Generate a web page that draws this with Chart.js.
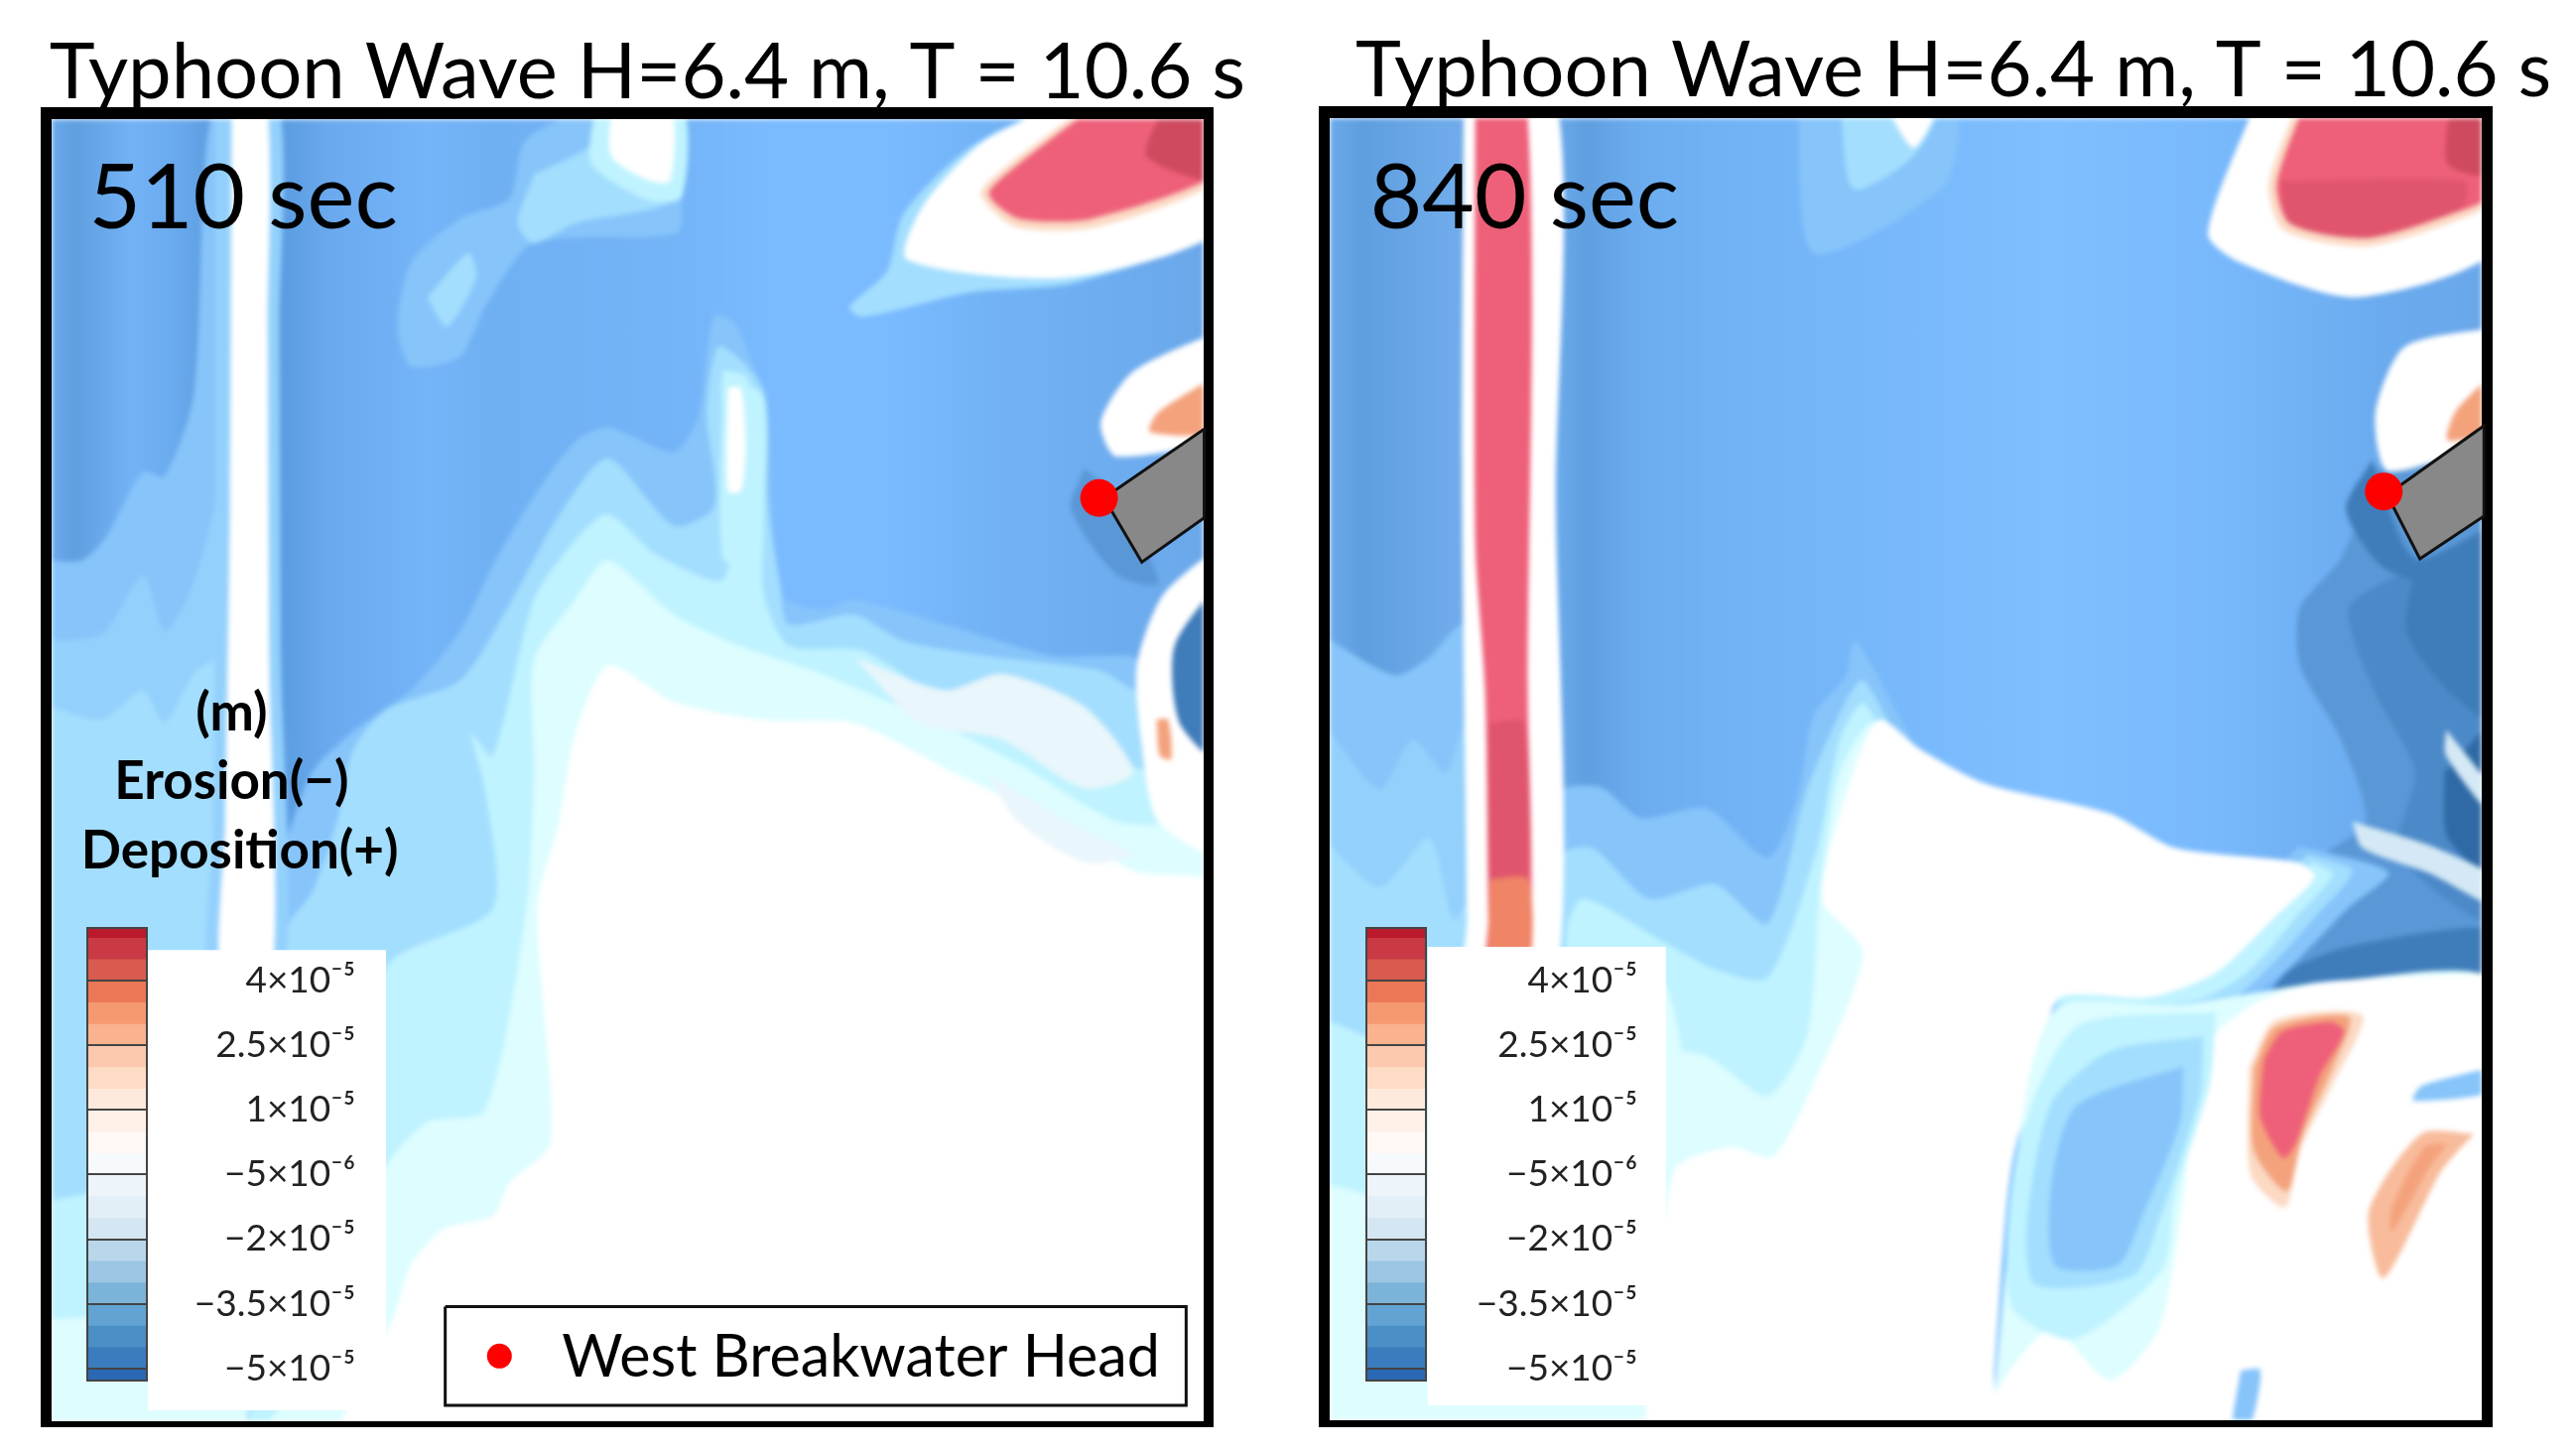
<!DOCTYPE html>
<html>
<head>
<meta charset="utf-8">
<script src="https://cdn.jsdelivr.net/npm/chart.js@4"></script>
<style>
  html, body { margin: 0; padding: 0; background: #fff; }
  body { position: relative; width: 2596px; height: 1464px; overflow: hidden; }
  canvas { position: absolute; display: block; }
  .frame { position: absolute; box-sizing: border-box; border-style: solid; border-color: #000; }
</style>
</head>
<body>
<script>
// all map coordinates are in one shared 1568 x 884 plan space, y running down
const titleText = 'Typhoon Wave H=6.4 m, T = 10.6 s';
const timeLabels = ['510 sec', '840 sec'];
const legendLabel = 'West Breakwater Head';
const unitLabels = ['(m)', 'Erosion(\u2212)', 'Deposition(+)'];

// colour bar
const barEdges = [5.22, 5, 4.5, 4, 3.5, 3, 2.5, 2, 1.5, 1, 0.5, 0, -0.5, -1, -1.5, -2, -2.5, -3, -3.5, -4, -4.5, -5, -5.28];
const barColors = ['#bb1a2c', '#c93a44', '#d95a4e', '#ea7856', '#f59a70', '#fab38f', '#fdc9ae', '#fedcc6', '#feeadc', '#fff1e8', '#fff8f5', '#f6fafd', '#edf4fa', '#e2eff7', '#d5e6f3', '#b9d7eb', '#9cc6e4', '#7cb4d9', '#62a3d3', '#4a8fc5', '#3a7cbd', '#2a68b3'];
const barTicks = [4, 2.5, 1, -0.5, -2, -3.5, -5];
const barTickLabels = ['4\u00d710\u207b\u2075', '2.5\u00d710\u207b\u2075', '1\u00d710\u207b\u2075', '\u22125\u00d710\u207b\u2076', '\u22122\u00d710\u207b\u2075', '\u22123.5\u00d710\u207b\u2075', '\u22125\u00d710\u207b\u2075'];

// background vertical stripes
const westStripeX = [32, 45, 80, 105, 125, 170, 200, 260, 300, 420, 470, 540, 600, 732];
const westStripeColors = ['#6aa9ec', '#5f9fe0', '#72b2f5', '#6aaaee', '#5f9fe2', '#5a9be0', '#6aa9ee', '#74b4f8', '#6fb0f3', '#74b4f8', '#7abaff', '#7abaff', '#72b3f6', '#6aa8ea'];
const eastStripeX = [810, 830, 880, 946, 965, 1000, 1060, 1130, 1250, 1350, 1450, 1510];
const eastStripeColors = ['#6aa9ea', '#5e9edf', '#6fabea', '#6cabec', '#5f9fe0', '#6cadf0', '#72b3f6', '#76b7fa', '#7fbfff', '#78b9fc', '#6aaaee', '#6aa8ea'];

const palette = {
  a: '#86c4fa', a2: '#93d0fc', b: '#a3defe', c: '#bff3ff', d: '#ddfdff', w: '#ffffff',
  red1: '#ee6079', red2: '#e0556d', red3: '#cf4a5e', orange: '#f4a27c', orange2: '#f8bc9c', bandOrange: '#ef8466', peach: '#fbd9c3',
  dark1: '#5a97d6', darkMid: '#4c89c8', dark2: '#3f7cba', dark3: '#2f6aa6', pale: '#d4e9f5', mist: '#e9f6fb'
};

// 510 sec contours
const wLeftA = [[28,341],[50,341],[65,326],[87,287],[100,290],[118,240],[128,72],[150,72],[150,870],[28,870],[28,341]];
const wLeftA2 = [[28,390],[62,386],[87,350],[100,384],[115,362],[131,302],[136,90],[150,90],[150,870],[28,870],[28,390]];
const wLeftB = [[28,429],[62,438],[87,420],[100,440],[118,410],[135,400],[150,400],[150,870],[28,870],[28,429]];
const wLeftC = [[28,731],[90,720],[150,710],[150,870],[28,870],[28,731]];
const wLeftD = [[28,803],[90,800],[150,800],[150,870],[28,870],[28,803]];
const wRightA = [[150,880],[165,560],[172,520],[190,470],[215,445],[250,420],[280,384],[300,344],[325,302],[350,269],[370,260],[410,275],[425,254],[430,217],[435,192],[447,196],[460,226],[467,242],[470,302],[475,362],[500,371],[520,365],[575,380],[640,399],[675,399],[690,400],[740,440],[740,880],[150,880]];
const wRightB = [[150,880],[175,565],[190,543],[205,500],[215,456],[235,432],[280,414],[310,368],[340,314],[370,279],[410,320],[435,308],[430,251],[437,211],[452,220],[465,239],[467,302],[475,356],[480,380],[520,374],[550,390],[600,399],[670,408],[685,417],[740,450],[740,880],[150,880]];
const wRightC = [[150,880],[155,840],[235,589],[300,553],[295,480],[287,447],[300,460],[325,365],[350,329],[370,313],[400,338],[440,353],[445,302],[440,230],[465,242],[465,320],[465,362],[480,393],[525,396],[565,420],[600,430],[650,450],[700,470],[740,480],[740,880],[150,880]];
const wRightD = [[150,880],[175,850],[235,710],[260,683],[295,676],[320,556],[325,471],[325,402],[350,365],[370,341],[410,374],[450,393],[500,410],[570,440],[620,465],[680,500],[740,510],[740,880],[150,880]];
const wWhite = [[200,880],[240,800],[250,770],[270,748],[300,740],[310,720],[335,695],[327,552],[340,501],[350,447],[370,405],[410,427],[465,438],[520,440],[580,470],[640,500],[690,530],[740,540],[740,880],[200,880]];
const wPatchA = [[520,400],[575,420],[610,410],[660,430],[690,470],[660,480],[610,450],[560,440],[520,400]];
const wPatchB = [[600,470],[650,500],[690,520],[660,525],[620,500],[600,470]];
const wBandHalo = [[131,60],[131,300],[130,500],[128,600],[172,600],[171,400],[170,200],[169,60],[131,60]];
const wBand = [[141,60],[140,300],[137,500],[135,600],[165,600],[164,400],[163,200],[162,60],[141,60]];
const wBlobHalo = [[650,60],[590,90],[550,130],[540,165],[517,187],[525,193],[590,178],[655,172],[745,135],[745,60],[650,60]];
const wBlobWhite = [[655,60],[600,85],[562,125],[552,158],[650,169],[745,138],[745,60],[655,60]];
const wBlobRim = [[668,60],[614,100],[597,118],[618,138],[668,138],[745,107],[745,60],[668,60]];
const wBlobRed = [[670,62],[620,100],[602,118],[620,133],[665,133],[745,103],[745,62],[670,62]];
const wBlobDark = [[710,62],[698,95],[745,110],[745,62],[710,62]];
const wTopA = [[370,60],[415,60],[415,120],[412,142],[325,148],[295,187],[280,217],[250,223],[242,199],[250,160],[280,133],[310,121],[320,85],[370,60]];
const wTopB = [[260,181],[285,154],[290,169],[272,199],[260,181]];
const wTopC = [[325,106],[360,88],[365,66],[410,66],[410,121],[350,136],[325,148],[315,136],[325,106]];
const wTopRim = [[362,66],[415,66],[415,120],[395,122],[360,100],[362,66]];
const wTopD = [[372,66],[408,66],[408,110],[395,110],[372,95],[372,66]];
const wPeakD = [[440,225],[455,230],[460,290],[458,340],[440,340],[440,225]];
const wPeakW = [[443,236],[451,236],[454,272],[451,299],[443,299],[443,236]];
const wHeadWhite = [[745,200],[690,226],[670,257],[680,278],[745,262],[745,200]];
const wHeadOrange = [[745,226],[705,251],[700,263],[745,262],[745,226]];
const wHeadShadow = [[660,285],[652,310],[680,350],[705,355],[690,320],[672,295],[660,285]];
const wPlumeWhite = [[745,330],[708,362],[692,405],[695,453],[705,500],[745,520],[745,330]];
const wPlumeDark = [[745,350],[715,393],[718,440],[745,465],[745,350]];
const wPlumeOrange = [[704,438],[711,438],[713,462],[706,460],[704,438]];

// 840 sec contours
const eLeftA = [[805,387],[849,411],[870,400],[890,380],[900,400],[900,880],[805,880],[805,387]];
const eLeftA2 = [[805,440],[840,480],[860,450],[880,470],[895,430],[895,880],[805,880],[805,440]];
const eLeftB = [[805,510],[840,540],[870,510],[885,560],[900,540],[900,880],[805,880],[805,510]];
const eLeftC = [[805,620],[860,640],[900,640],[900,880],[805,880],[805,620]];
const eLeftD = [[805,720],[850,730],[900,730],[900,880],[805,880],[805,720]];
const eRightA = [[940,880],[949,483],[974,479],[999,498],[1039,492],[1076,522],[1094,486],[1104,435],[1124,411],[1129,390],[1154,432],[1170,470],[1170,880],[940,880]];
const eRightB = [[940,880],[949,522],[969,516],[1004,547],[1044,538],[1076,562],[1100,480],[1124,426],[1134,414],[1150,440],[1170,480],[1170,880],[940,880]];
const eRightC = [[940,880],[954,565],[964,547],[1014,574],[1044,590],[1076,595],[1105,520],[1120,450],[1134,428],[1150,455],[1170,490],[1170,880],[940,880]];
const eRightD = [[940,880],[1014,643],[1039,643],[1076,667],[1100,630],[1108,540],[1120,470],[1140,440],[1170,480],[1170,880],[940,880]];
const eBottomFill = [[895,600],[1014,600],[1014,880],[895,880],[895,600]];
const eWhite = [[1000,880],[1019,713],[1054,698],[1079,704],[1099,670],[1134,580],[1109,547],[1128,470],[1144,438],[1169,456],[1209,477],[1284,495],[1324,516],[1399,525],[1409,534],[1384,559],[1349,592],[1309,607],[1254,607],[1244,637],[1224,713],[1214,833],[1209,880],[1000,880]];
const eDiagA = [[1400,515],[1454,531],[1429,553],[1394,589],[1374,604],[1349,622],[1300,622],[1240,610],[1349,560],[1400,515]];
const eDiagB = [[1405,520],[1432,530],[1412,555],[1380,590],[1355,610],[1300,618],[1245,609],[1349,570],[1405,520]];
const eDiagC = [[1408,525],[1420,532],[1398,558],[1368,592],[1340,608],[1300,614],[1250,608],[1349,580],[1408,525]];
const eLowD = [[1374,604],[1324,612],[1254,612],[1234,661],[1214,850],[1214,880],[1520,880],[1520,600],[1414,598],[1374,604]];
const eLowWhite = [[1520,592],[1414,598],[1374,610],[1340,640],[1329,728],[1314,809],[1284,840],[1249,809],[1214,849],[1214,880],[1520,880],[1520,592]];
const eLowC = [[1349,616],[1264,625],[1229,697],[1224,794],[1262,815],[1316,773],[1324,728],[1345,660],[1349,616]];
const eLowB = [[1341,631],[1284,640],[1249,671],[1234,743],[1239,782],[1299,776],[1314,743],[1339,667],[1341,631]];
const eLowA = [[1329,649],[1264,673],[1249,719],[1251,770],[1289,770],[1304,740],[1327,683],[1329,649]];
const eStrip = [[1380,606],[1394,590],[1434,575],[1520,565],[1520,592],[1414,597],[1380,606]];
const eDark1 = [[1448,285],[1425,340],[1400,370],[1400,405],[1425,450],[1440,500],[1409,525],[1454,531],[1429,553],[1394,589],[1520,570],[1520,285],[1448,285]];
const eDarkMid = [[1470,345],[1430,370],[1445,420],[1470,470],[1460,520],[1520,560],[1520,340],[1470,345]];
const eDark2 = [[1470,345],[1520,335],[1520,440],[1490,420],[1465,385],[1470,345]];
const eDark3 = [[1488,470],[1520,440],[1520,535],[1490,510],[1488,470]];
const eStreakA = [[1432,500],[1480,515],[1520,535],[1520,552],[1480,532],[1438,516],[1432,500]];
const eStreakB = [[1489,444],[1520,485],[1520,500],[1489,460],[1489,444]];
const eBandWhite = [[891,60],[890,300],[893,560],[893,600],[947,600],[947,300],[947,60],[891,60]];
const eBandRed = [[898,60],[898,330],[904,420],[906,560],[906,590],[930,590],[930,420],[929,60],[898,60]];
const eBandDeep = [[906,440],[909,560],[928,560],[928,440],[906,440]];
const eBandOrange = [[907,535],[908,590],[930,590],[930,535],[907,535]];
const eBlobHalo = [[1374,60],[1344,142],[1364,160],[1434,181],[1520,151],[1520,60],[1374,60]];
const eBlobRim = [[1400,60],[1381,112],[1390,140],[1439,150],[1488,137],[1520,120],[1520,60],[1400,60]];
const eBlobRed = [[1404,60],[1386,112],[1394,136],[1439,145],[1484,133],[1520,116],[1520,60],[1404,60]];
const eBlobRedLow = [[1388,110],[1394,136],[1439,145],[1484,133],[1500,125],[1500,110],[1388,110]];
const eBlobDark = [[1492,60],[1490,100],[1520,106],[1520,60],[1492,60]];
const eTopA = [[1094,60],[1104,154],[1184,112],[1188,60],[1094,60]];
const eTopB = [[1120,60],[1128,115],[1165,95],[1180,60],[1120,60]];
const eTopW = [[1145,60],[1165,90],[1180,60],[1145,60]];
const eHeadWhite = [[1520,199],[1464,211],[1446,251],[1454,287],[1520,260],[1520,199]];
const eHeadOrange = [[1520,225],[1495,250],[1490,268],[1520,260],[1520,225]];
const eHeadShadow = [[1444,280],[1428,310],[1450,345],[1480,355],[1520,345],[1520,320],[1470,340],[1444,280]];
const eRedLow = [[1378,645],[1389,628],[1419,622],[1427,628],[1412,655],[1398,695],[1390,705],[1376,680],[1378,645]];
const eOrangeLow = [[1372,650],[1385,625],[1430,619],[1420,650],[1402,690],[1392,725],[1372,700],[1372,650]];
const ePeachLow = [[1369,650],[1385,621],[1438,618],[1420,660],[1400,700],[1391,735],[1370,715],[1369,650]];
const ePeachRight = [[1506,690],[1474,690],[1442,737],[1451,778],[1486,713],[1506,690]];
const eOrangeRight = [[1490,696],[1476,698],[1456,735],[1456,750],[1478,712],[1490,696]];
const eBlueRight = [[1520,649],[1474,661],[1469,670],[1520,664],[1520,649]];
const eBlueBottom = [[1364,834],[1376,834],[1369,870],[1359,870],[1364,834]];

const westLayers = [
  [wLeftA, 'a'], [wLeftA2, 'a2'], [wLeftB, 'b'], [wLeftC, 'c'], [wLeftD, 'd'],
  [wRightA, 'a'], [wRightB, 'b'], [wRightC, 'c'], [wRightD, 'd'], [wWhite, 'w'],
  [wPatchA, 'mist'], [wPatchB, 'mist'], [wBandHalo, 'a2'], [wBand, 'w'],
  [wTopA, 'a'], [wTopB, 'b'], [wTopC, 'b'], [wTopRim, 'c'], [wTopD, 'w'],
  [wBlobHalo, 'b'], [wBlobWhite, 'w'], [wBlobRim, 'peach'], [wBlobRed, 'red1'], [wBlobDark, 'red3'],
  [wPeakD, 'c'], [wPeakW, 'w'], [wHeadShadow, 'dark1'], [wHeadWhite, 'w'], [wHeadOrange, 'orange'],
  [wPlumeWhite, 'w'], [wPlumeDark, 'dark2'], [wPlumeOrange, 'orange']
];
const eastLayers = [
  [eLeftA, 'a'], [eLeftA2, 'a2'], [eLeftB, 'b'], [eLeftC, 'c'], [eLeftD, 'd'],
  [eRightA, 'a'], [eRightB, 'b'], [eRightC, 'c'], [eRightD, 'd'], [eBottomFill, 'd'],
  [eDark1, 'dark1'], [eDarkMid, 'darkMid'], [eDark2, 'dark2'], [eDark3, 'dark3'], [eStreakA, 'pale'], [eStreakB, 'pale'],
  [eDiagA, 'a'], [eDiagB, 'b'], [eDiagC, 'c'], [eWhite, 'w'],
  [eStrip, 'dark2'], [eLowD, 'd'], [eLowWhite, 'w'], [eLowC, 'c'], [eLowB, 'b'], [eLowA, 'a'],
  [ePeachLow, 'peach'], [eOrangeLow, 'orange'], [eRedLow, 'red1'], [ePeachRight, 'orange2'], [eOrangeRight, 'orange'], [eBlueRight, 'a'], [eBlueBottom, 'a'],
  [eBandWhite, 'w'], [eBandRed, 'red1'], [eBandDeep, 'red2'], [eBandOrange, 'bandOrange'],
  [eTopA, 'a'], [eTopB, 'b'], [eTopW, 'w'],
  [eBlobHalo, 'w'], [eBlobRim, 'peach'], [eBlobRed, 'red1'], [eBlobRedLow, 'red2'], [eBlobDark, 'red3'],
  [eHeadShadow, 'dark2'], [eHeadWhite, 'w'], [eHeadOrange, 'orange']
];

// overlay shapes
const westBreakwater = [[672,303],[733,261],[733,315],[695,342],[672,303]];
const eastBreakwater = [[1453,301],[1512,259],[1512,314],[1473,340],[1453,301]];
const headMarkers = [[669,303],[1451,299],[304,825]];
const westKeyBox = [[90,578],[235,578],[235,858],[90,858],[90,578]];
const eastKeyBox = [[869,576],[1014,576],[1014,855],[869,855],[869,576]];
const legendBox = [[271,795],[722,795],[722,855],[271,855],[271,795]];

const toPoints = (poly) => poly.map(([x, y]) => ({ x, y }));

const polygon = (poly, color, extra = {}) => ({
  data: toPoints(poly),
  showLine: true,
  fill: 'shape',
  backgroundColor: color,
  borderWidth: 0,
  pointRadius: 0,
  tension: 0,
  ...extra
});

const hiddenAxis = (min, max, reverse = false) => ({ type: 'linear', display: false, min, max, reverse });

const addCanvas = (left, top, width, height) => {
  const canvas = document.createElement('canvas');
  canvas.width = width;
  canvas.height = height;
  canvas.style.left = `${left}px`;
  canvas.style.top = `${top}px`;
  document.body.appendChild(canvas);
  return canvas;
};

const baseOptions = (xMin, xMax, yMin, yMax) => ({
  responsive: false,
  animation: false,
  layout: { padding: 0, autoPadding: false },
  plugins: { legend: { display: false }, tooltip: { enabled: false }, title: { display: false } },
  scales: { x: hiddenAxis(xMin, xMax), y: hiddenAxis(yMin, yMax, true) }
});

const renderContours = (box, range, layers, stripeX, stripeColors) => {
  const canvas = addCanvas(box.left, box.top, box.width, box.height);
  canvas.style.filter = 'blur(2.5px)';
  const ctx = canvas.getContext('2d');
  const gradient = ctx.createLinearGradient(0, 0, box.width, 0);
  stripeX.forEach((x, i) => gradient.addColorStop((x - range.x0) / (range.x1 - range.x0), stripeColors[i]));
  const background = [[range.x0, range.y0], [range.x1, range.y0], [range.x1, range.y1], [range.x0, range.y1], [range.x0, range.y0]];
  const datasets = [polygon(background, gradient, { order: layers.length + 1 })];
  layers.forEach(([poly, key], i) => {
    datasets.push(polygon(poly, palette[key], { order: layers.length - i, tension: 0.25 }));
  });
  new Chart(ctx, {
    type: 'scatter',
    data: { datasets },
    options: baseOptions(range.x0, range.x1, range.y0, range.y1)
  });
};

const renderFrame = (left, top, width, height, widths) => {
  const frame = document.createElement('div');
  frame.className = 'frame';
  frame.style.cssText = `left:${left}px;top:${top}px;width:${width}px;height:${height}px;border-width:${widths}`;
  document.body.appendChild(frame);
};

const overlayTexts = [
  { text: titleText, x: 394, y: 44.5, size: 78, width: 728 },
  { text: titleText, x: 1189, y: 43.5, size: 78, width: 728 },
  { text: timeLabels[0], x: 148, y: 121, size: 91, width: 188 },
  { text: timeLabels[1], x: 928, y: 121, size: 91, width: 188 },
  { text: unitLabels[0], x: 141, y: 434, size: 53, bold: true, width: 50 },
  { text: unitLabels[1], x: 141, y: 476, size: 53, bold: true, width: 148 },
  { text: unitLabels[2], x: 146, y: 518, size: 53, bold: true, width: 196 },
  { text: legendLabel, x: 524, y: 826, size: 60, width: 364 }
];

const overlayText = {
  id: 'overlayText',
  afterDatasetsDraw(chart) {
    const { ctx, scales } = chart;
    const pxPerUnit = chart.width / 1568;
    ctx.save();
    ctx.fillStyle = '#000';
    ctx.textAlign = 'center';
    ctx.textBaseline = 'middle';
    overlayTexts.forEach((t) => {
      ctx.font = `${t.bold ? 'bold ' : ''}${t.size}px Lato`;
      ctx.fillText(t.text, scales.x.getPixelForValue(t.x), scales.y.getPixelForValue(t.y), t.width * pxPerUnit);
    });
    ctx.restore();
  }
};

const renderOverlay = () => {
  const canvas = addCanvas(0, 0, 2596, 1464);
  new Chart(canvas.getContext('2d'), {
    type: 'scatter',
    data: {
      datasets: [
        { data: toPoints(headMarkers), backgroundColor: '#ff0000', borderWidth: 0, pointRadius: [19, 19, 12.5], order: 0 },
        polygon(legendBox, '#ffffff', { borderWidth: 3, borderColor: '#111', order: 1 }),
        polygon(westBreakwater, '#888888', { borderWidth: 3, borderColor: '#111', order: 1 }),
        polygon(eastBreakwater, '#888888', { borderWidth: 3, borderColor: '#111', order: 1 }),
        polygon(westKeyBox, '#ffffff', { order: 2 }),
        polygon(eastKeyBox, '#ffffff', { order: 2 })
      ]
    },
    options: baseOptions(0, 1568, 0, 884),
    plugins: [overlayText]
  });
};

const barOutline = {
  id: 'barOutline',
  afterDraw(chart) {
    const { ctx, chartArea: a } = chart;
    ctx.save();
    ctx.strokeStyle = '#444';
    ctx.lineWidth = 2;
    ctx.strokeRect(a.left, a.top, a.right - a.left, a.bottom - a.top);
    ctx.restore();
  }
};

const renderColorBar = (left, top, width) => {
  const canvas = addCanvas(left, top, width, 504);
  new Chart(canvas.getContext('2d'), {
    type: 'bar',
    data: {
      labels: ['level'],
      datasets: barColors.map((color, i) => ({
        data: [[barEdges[i + 1], barEdges[i]]],
        backgroundColor: color,
        borderWidth: 0,
        barPercentage: 1,
        categoryPercentage: 1,
        grouped: false
      }))
    },
    options: {
      responsive: false,
      animation: false,
      layout: { padding: { top: 24, bottom: 24, left: 1, right: 0 }, autoPadding: false },
      plugins: { legend: { display: false }, tooltip: { enabled: false } },
      scales: {
        x: { display: false },
        y: {
          position: 'right',
          min: -5.28,
          max: 5.22,
          afterBuildTicks: (scale) => { scale.ticks = barTicks.map((value) => ({ value })); },
          afterFit: (scale) => { scale.width = width - 61; },
          grid: { color: '#444', lineWidth: 2, z: 1, drawTicks: false },
          border: { display: false },
          ticks: {
            autoSkip: false,
            crossAlign: 'far',
            padding: 0,
            color: '#222',
            font: { family: 'Lato', size: 37 },
            callback: (value, index) => barTickLabels[index]
          }
        }
      }
    },
    plugins: [barOutline]
  });
};

renderContours({ left: 52, top: 120, width: 1161, height: 1312 }, { x0: 31.4, x1: 732.7, y0: 72.5, y1: 865 }, westLayers, westStripeX, westStripeColors);
renderContours({ left: 1340, top: 119, width: 1161, height: 1312 }, { x0: 809.4, x1: 1510.7, y0: 71.9, y1: 864.4 }, eastLayers, eastStripeX, eastStripeColors);
renderFrame(41, 108, 1182, 1330, '12px 10px 6px 11px');
renderFrame(1329, 107, 1183, 1331, '12px 11px 7px 11px');
renderOverlay();
renderColorBar(87, 911, 271);
renderColorBar(1376, 911, 274);
</script>
</body>
</html>
